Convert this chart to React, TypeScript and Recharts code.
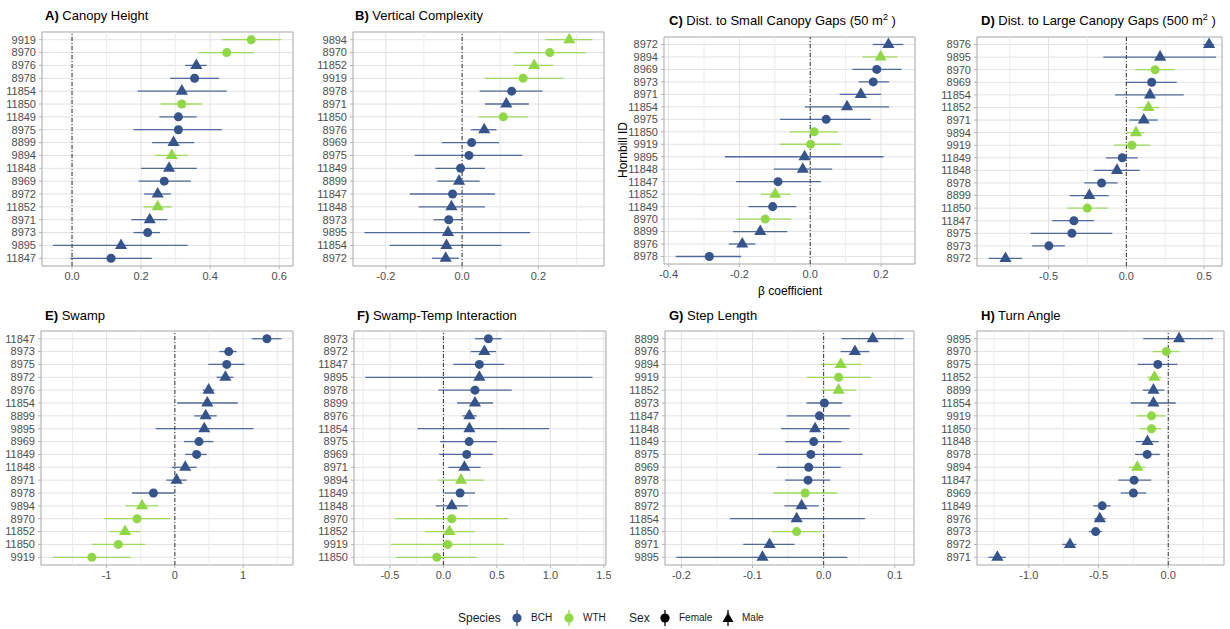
import React from 'react';
import {
  ScatterChart,
  Scatter,
  XAxis,
  YAxis,
  ZAxis,
  CartesianGrid,
  ReferenceLine,
  ReferenceArea,
  ErrorBar
} from 'recharts';

// species / sex lookup
const wthIds = ['9919', '8970', '11850', '9894', '11852'];
const maleIds = ['8976', '11854', '8899', '9894', '11848', '8972', '11852', '8971', '9895'];

// A) Canopy Height
const canopyIds = ['9919', '8970', '8976', '8978', '11854', '11850', '11849', '8975', '8899', '9894', '11848', '8969', '8972', '11852', '8971', '8973', '9895', '11847'];
const canopyEst = [0.519, 0.448, 0.36, 0.355, 0.318, 0.318, 0.308, 0.308, 0.294, 0.289, 0.281, 0.267, 0.248, 0.248, 0.225, 0.219, 0.142, 0.113];
const canopyLo = [0.434, 0.366, 0.328, 0.284, 0.19, 0.257, 0.253, 0.178, 0.232, 0.241, 0.2, 0.193, 0.209, 0.207, 0.172, 0.178, -0.055, -0.005];
const canopyHi = [0.605, 0.527, 0.39, 0.426, 0.448, 0.377, 0.361, 0.434, 0.354, 0.335, 0.361, 0.344, 0.286, 0.289, 0.275, 0.255, 0.335, 0.231];
const canopyTicks = [0, 0.2, 0.4, 0.6];
const canopyMinor = [0.1, 0.3, 0.5];

// B) Vertical Complexity
const vertIds = ['9894', '8970', '11852', '9919', '8978', '8971', '11850', '8976', '8969', '8975', '11849', '8899', '11847', '11848', '8973', '9895', '11854', '8972'];
const vertEst = [0.281, 0.23, 0.189, 0.16, 0.13, 0.116, 0.108, 0.058, 0.025, 0.018, -0.004, -0.008, -0.025, -0.028, -0.035, -0.037, -0.041, -0.043];
const vertLo = [0.219, 0.136, 0.136, 0.06, 0.046, 0.06, 0.043, 0.023, -0.053, -0.124, -0.07, -0.065, -0.137, -0.114, -0.074, -0.256, -0.19, -0.079];
const vertHi = [0.342, 0.324, 0.239, 0.263, 0.211, 0.175, 0.172, 0.09, 0.097, 0.158, 0.06, 0.046, 0.086, 0.06, 0.0, 0.178, 0.103, -0.008];
const vertTicks = [-0.2, 0, 0.2];
const vertMinor = [-0.1, 0.1, 0.3];

// C) Dist. to small canopy gaps
const smallIds = ['8972', '9894', '8969', '8973', '8971', '11854', '8975', '11850', '9919', '9895', '11848', '11847', '11852', '11849', '8970', '8899', '8976', '8978'];
const smallEst = [0.221, 0.199, 0.188, 0.178, 0.143, 0.104, 0.045, 0.011, 0.001, -0.016, -0.021, -0.091, -0.099, -0.106, -0.127, -0.141, -0.192, -0.285];
const smallLo = [0.177, 0.148, 0.119, 0.137, 0.083, -0.015, -0.085, -0.058, -0.086, -0.241, -0.103, -0.209, -0.139, -0.174, -0.207, -0.218, -0.23, -0.38];
const smallHi = [0.263, 0.246, 0.258, 0.223, 0.2, 0.223, 0.171, 0.078, 0.088, 0.207, 0.062, 0.03, -0.056, -0.039, -0.054, -0.065, -0.155, -0.195];
const smallTicks = [-0.4, -0.2, 0, 0.2];
const smallMinor = [-0.3, -0.1, 0.1];

// D) Dist. to large canopy gaps
const largeIds = ['8976', '9895', '8970', '8969', '11854', '11852', '8971', '9894', '9919', '11849', '11848', '8978', '8899', '11850', '11847', '8975', '8973', '8972'];
const largeEst = [0.532, 0.217, 0.185, 0.163, 0.152, 0.142, 0.112, 0.062, 0.036, -0.026, -0.06, -0.159, -0.238, -0.251, -0.337, -0.35, -0.498, -0.777];
const largeLo = [0.495, -0.148, 0.056, -0.004, -0.073, 0.073, 0.019, 0.004, -0.079, -0.131, -0.208, -0.27, -0.363, -0.38, -0.476, -0.616, -0.605, -0.884];
const largeHi = [0.565, 0.577, 0.309, 0.324, 0.369, 0.208, 0.202, 0.116, 0.152, 0.073, 0.086, -0.056, -0.114, -0.122, -0.208, -0.09, -0.395, -0.67];
const largeTicks = [-0.5, 0, 0.5];
const largeMinor = [-0.75, -0.25, 0.25];

// E) Swamp
const swampIds = ['11847', '8973', '8975', '8972', '8976', '11854', '8899', '9895', '8969', '11849', '11848', '8971', '8978', '9894', '8970', '11852', '11850', '9919'];
const swampEst = [1.348, 0.789, 0.76, 0.74, 0.495, 0.475, 0.451, 0.431, 0.353, 0.319, 0.152, 0.025, -0.314, -0.48, -0.554, -0.73, -0.828, -1.216];
const swampLo = [1.127, 0.652, 0.49, 0.613, 0.407, 0.034, 0.284, -0.279, 0.132, 0.152, -0.044, -0.123, -0.627, -0.72, -1.039, -0.956, -1.216, -1.789];
const swampHi = [1.559, 0.907, 1.02, 0.858, 0.578, 0.922, 0.613, 1.152, 0.564, 0.466, 0.319, 0.172, 0.0, -0.245, -0.069, -0.505, -0.436, -0.647];
const swampTicks = [-1, 0, 1];
const swampMinor = [-1.5, -0.5, 0.5, 1.5];

// F) Swamp-Temp Interaction
const interIds = ['8973', '8972', '11847', '9895', '8978', '8899', '8976', '11854', '8975', '8969', '8971', '9894', '11849', '11848', '8970', '11852', '9919', '11850'];
const interEst = [0.42, 0.383, 0.336, 0.336, 0.295, 0.295, 0.243, 0.243, 0.24, 0.218, 0.196, 0.165, 0.156, 0.078, 0.078, 0.056, 0.04, -0.062];
const interLo = [0.295, 0.255, 0.093, -0.731, -0.047, 0.128, 0.177, -0.243, -0.031, -0.04, 0.047, -0.047, 0.009, -0.072, -0.451, -0.171, -0.491, -0.445];
const interHi = [0.544, 0.491, 0.569, 1.393, 0.638, 0.463, 0.311, 0.989, 0.501, 0.463, 0.348, 0.379, 0.295, 0.227, 0.607, 0.289, 0.569, 0.311];
const interTicks = [-0.5, 0, 0.5, 1, 1.5];
const interMinor = [-0.75, -0.25, 0.25, 0.75, 1.25];

// G) Step Length
const stepIds = ['8899', '8976', '9894', '9919', '11852', '8973', '11847', '11848', '11849', '8975', '8969', '8978', '8970', '8972', '11854', '11850', '8971', '9895'];
const stepEst = [0.069, 0.044, 0.024, 0.021, 0.021, 0.001, -0.006, -0.012, -0.014, -0.018, -0.021, -0.022, -0.026, -0.031, -0.038, -0.038, -0.076, -0.086];
const stepLo = [0.025, 0.024, -0.004, -0.024, -0.004, -0.024, -0.052, -0.06, -0.054, -0.092, -0.066, -0.054, -0.071, -0.055, -0.132, -0.073, -0.113, -0.207];
const stepHi = [0.112, 0.064, 0.053, 0.066, 0.046, 0.026, 0.038, 0.036, 0.025, 0.055, 0.024, 0.009, 0.019, -0.007, 0.058, -0.003, -0.041, 0.033];
const stepTicks = [-0.2, -0.1, 0, 0.1];
const stepMinor = [-0.15, -0.05, 0.05];

// H) Turn Angle
const turnIds = ['9895', '8970', '8975', '11852', '8899', '11854', '9919', '11850', '11848', '8978', '9894', '11847', '8969', '11849', '8976', '8973', '8972', '8971'];
const turnEst = [0.078, -0.014, -0.075, -0.099, -0.106, -0.106, -0.12, -0.12, -0.149, -0.151, -0.222, -0.245, -0.25, -0.474, -0.491, -0.521, -0.705, -1.226];
const turnLo = [-0.179, -0.111, -0.219, -0.149, -0.182, -0.269, -0.226, -0.205, -0.233, -0.238, -0.283, -0.358, -0.34, -0.538, -0.531, -0.568, -0.759, -1.29];
const turnHi = [0.321, 0.08, 0.066, -0.052, -0.028, 0.054, -0.019, -0.052, -0.068, -0.061, -0.165, -0.123, -0.158, -0.413, -0.45, -0.476, -0.658, -1.165];
const turnTicks = [-1, -0.5, 0];
const turnMinor = [-1.25, -0.75, -0.25, 0.25];

const BCH = '#36548c';
const WTH = '#8fd744';

const panels = [
  { label: 'A)', title: 'Canopy Height', ids: canopyIds, est: canopyEst, lo: canopyLo, hi: canopyHi, ticks: canopyTicks, minor: canopyMinor, dec: 1, domain: [-0.087, 0.64], plot: [42, 32, 293, 266], head: [45, 16] },
  { label: 'B)', title: 'Vertical Complexity', ids: vertIds, est: vertEst, lo: vertLo, hi: vertHi, ticks: vertTicks, minor: vertMinor, dec: 1, domain: [-0.286, 0.372], plot: [353, 32, 604, 266], head: [355, 16] },
  { label: 'C)', title: 'Dist. to Small Canopy Gaps (50 m', sup: true, ids: smallIds, est: smallEst, lo: smallLo, hi: smallHi, ticks: smallTicks, minor: smallMinor, dec: 1, domain: [-0.413, 0.296], plot: [664, 37, 915, 264], head: [669, 21] },
  { label: 'D)', title: 'Dist. to Large Canopy Gaps (500 m', sup: true, ids: largeIds, est: largeEst, lo: largeLo, hi: largeHi, ticks: largeTicks, minor: largeMinor, dec: 1, domain: [-0.96, 0.615], plot: [977, 37, 1222, 266], head: [981, 21] },
  { label: 'E)', title: 'Swamp', ids: swampIds, est: swampEst, lo: swampLo, hi: swampHi, ticks: swampTicks, minor: swampMinor, dec: 0, domain: [-1.96, 1.73], plot: [41, 331, 293, 565], head: [45, 316] },
  { label: 'F)', title: 'Swamp-Temp Interaction', ids: interIds, est: interEst, lo: interLo, hi: interHi, ticks: interTicks, minor: interMinor, dec: 1, domain: [-0.836, 1.52], plot: [354, 331, 606, 565], head: [357, 316] },
  { label: 'G)', title: 'Step Length', ids: stepIds, est: stepEst, lo: stepLo, hi: stepHi, ticks: stepTicks, minor: stepMinor, dec: 1, domain: [-0.223, 0.127], plot: [665, 331, 914, 565], head: [669, 316] },
  { label: 'H)', title: 'Turn Angle', ids: turnIds, est: turnEst, lo: turnLo, hi: turnHi, ticks: turnTicks, minor: turnMinor, dec: 1, domain: [-1.372, 0.4], plot: [977, 331, 1224, 565], head: [981, 316] }
];

const groups = [
  { wth: false, male: false },
  { wth: false, male: true },
  { wth: true, male: false },
  { wth: true, male: true }
];

const YW = 50;
const MT = 5;
const MR = 5;
const XH = 25;

function Panel({ p }: { p: any }) {
  const n = p.ids.length;
  const rows = p.ids.map((id: string, i: number) => ({
    id,
    x: p.est[i],
    y: i,
    err: [p.est[i] - p.lo[i], p.hi[i] - p.est[i]]
  }));
  const rowTicks = rows.map((r: any) => r.y);
  const [L, T, R, B] = p.plot;
  const w = R - L + YW + MR;
  const h = B - T + MT + XH;
  const yDom = [-0.6, n - 1 + 0.6];
  return (
    <>
      <div style={{ position: 'absolute', left: p.head[0], top: p.head[1] - 8, fontSize: 13, lineHeight: '16px', color: '#000', whiteSpace: 'nowrap' }}>
        <b>{p.label}</b> {p.title}
        {p.sup && (
          <>
            <span style={{ fontSize: 9, verticalAlign: 'super', lineHeight: 0 }}>2</span> )
          </>
        )}
      </div>
      <div style={{ position: 'absolute', left: L - YW, top: T - MT }}>
        <ScatterChart width={w} height={h} margin={{ top: MT, right: MR, bottom: 0, left: 0 }}>
          <CartesianGrid stroke="#e2e2e2" strokeWidth={1} />
          {p.minor.map((m: number) => (
            <ReferenceLine key={m} x={m} stroke="#ececec" strokeWidth={1} ifOverflow="hidden" />
          ))}
          <XAxis
            type="number"
            dataKey="x"
            domain={p.domain}
            allowDataOverflow
            ticks={p.ticks}
            interval={0}
            tickFormatter={(v: number) => v.toFixed(p.dec)}
            axisLine={false}
            tickLine={{ stroke: '#b3b3b3' }}
            tickSize={3}
            tickMargin={3}
            height={XH}
            tick={{ fontSize: 11, fill: '#4d4d4d' }}
          />
          <YAxis
            type="number"
            dataKey="y"
            reversed
            domain={yDom}
            allowDataOverflow
            ticks={rowTicks}
            interval={0}
            tickFormatter={(v: number) => p.ids[v]}
            axisLine={false}
            tickLine={{ stroke: '#b3b3b3' }}
            tickSize={3}
            tickMargin={3}
            width={YW}
            tick={{ fontSize: 11, fill: '#4d4d4d' }}
          />
          <ZAxis zAxisId="c" range={[80, 80]} />
          <ZAxis zAxisId="t" range={[58, 58]} />
          <ReferenceArea x1={p.domain[0]} x2={p.domain[1]} y1={yDom[0]} y2={yDom[1]} fill="none" stroke="#b3b3b3" strokeWidth={1} ifOverflow="visible" />
          <ReferenceLine x={0} stroke="#333333" strokeWidth={1} strokeDasharray="4 2 1 2" />
          {groups.map((g, gi) => {
            const data = rows.filter(
              (r: any) => wthIds.includes(r.id) === g.wth && maleIds.includes(r.id) === g.male
            );
            const col = g.wth ? WTH : BCH;
            return (
              <Scatter
                key={gi}
                data={data}
                zAxisId={g.male ? 't' : 'c'}
                shape={g.male ? 'triangle' : 'circle'}
                fill={col}
                isAnimationActive={false}
              >
                <ErrorBar dataKey="err" direction="x" width={0} stroke={col} strokeWidth={1.3} strokeOpacity={0.85} isAnimationActive={false} />
              </Scatter>
            );
          })}
        </ScatterChart>
      </div>
    </>
  );
}

function Key({ x, color, male }: { x: number; color: string; male?: boolean }) {
  return (
    <svg style={{ position: 'absolute', left: x - 8, top: 610 }} width={16} height={16}>
      <line x1={8} y1={0} x2={8} y2={16} stroke={color} strokeWidth={1.3} />
      {male ? (
        <polygon points="8,2.5 13.5,12 2.5,12" fill={color} />
      ) : (
        <circle cx={8} cy={8} r={4.6} fill={color} />
      )}
    </svg>
  );
}

export default function App() {
  const txt = (x: number, s: string, size: number) => (
    <div style={{ position: 'absolute', left: x, top: 618 - size * 0.6, fontSize: size, lineHeight: `${Math.round(size * 1.2)}px`, color: '#1a1a1a', whiteSpace: 'nowrap' }}>{s}</div>
  );
  return (
    <div style={{ position: 'absolute', left: 0, top: 0, width: 1230, height: 629, background: '#fff', fontFamily: "'Liberation Sans', Arial, sans-serif" }}>
      {panels.map((p, i) => (
        <Panel key={i} p={p} />
      ))}
      <div style={{ position: 'absolute', left: 623 - 40, top: 150 - 8, width: 80, textAlign: 'center', fontSize: 12, lineHeight: '16px', transform: 'rotate(-90deg)', color: '#000' }}>Hornbill ID</div>
      <div style={{ position: 'absolute', left: 790 - 50, top: 283, width: 100, textAlign: 'center', fontSize: 12, lineHeight: '16px', color: '#000' }}>β coefficient</div>
      {txt(458, 'Species', 12)}
      <Key x={517} color={BCH} />
      {txt(531, 'BCH', 10)}
      <Key x={569} color={WTH} />
      {txt(583, 'WTH', 10)}
      {txt(629, 'Sex', 12)}
      <Key x={665} color="#000" />
      {txt(679, 'Female', 10)}
      <Key x={728} color="#000" male />
      {txt(742, 'Male', 10)}
    </div>
  );
}
